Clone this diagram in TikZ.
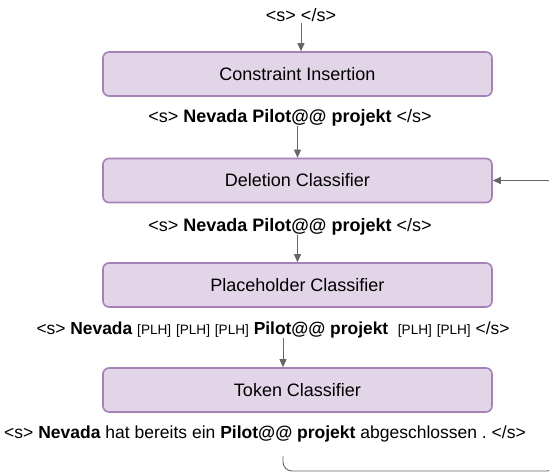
\documentclass[tikz,border=0pt]{standalone}
\usepackage{fontspec}
\setmainfont{Liberation Sans}
\usetikzlibrary{arrows.meta}
\frenchspacing
\definecolor{boxfill}{HTML}{E1D5E7}
\definecolor{boxdraw}{HTML}{A680B8}
\definecolor{arr}{HTML}{666666}
\newcommand{\tagS}[1]{#1}
\newcommand{\plh}{{\fontsize{13.6}{16}\selectfont [PLH]}}
\newcommand{\bw}[1]{\textbf{#1}}
\tikzset{
  stage/.style={draw=boxdraw, fill=boxfill, line width=1.6pt, rounded corners=6pt,
    minimum width=389pt, minimum height=44pt, inner sep=0pt,
    font=\fontsize{18}{20}\selectfont},
  seqtext/.style={inner sep=0pt, font=\fontsize{18}{20}\selectfont\frenchspacing},
  flow/.style={draw=arr, line width=0.9pt, -{Triangle[length=8pt,width=7pt]}},
  loopline/.style={draw=arr, line width=0.9pt, rounded corners=9pt, -{Triangle[length=8pt,width=7pt]}}
}
\begin{document}
\begin{tikzpicture}[x=1pt,y=-1pt]
\useasboundingbox (0,0) rectangle (549,473);
\node[seqtext] (t0) at (301,15) {\tagS{<s> </s>}};
\node[stage] (b0) at (297.5,74) {Constraint Insertion};
\node[seqtext] (t1) at (290,118) {\tagS{<s>} \bw{Nevada Pilot@@ projekt} \tagS{</s>}};
\node[stage] (b1) at (297.5,180.5) {Deletion Classifier};
\node[seqtext] (t2) at (290,227) {\tagS{<s>} \bw{Nevada Pilot@@ projekt} \tagS{</s>}};
\node[stage] (b2) at (297.5,285) {Placeholder Classifier};
\node[seqtext, font=\fontsize{17.4}{20}\selectfont\frenchspacing] (t3) at (273,330) {\tagS{<s>} \bw{Nevada} \plh{} \plh{} \plh{} \bw{Pilot@@ projekt}\ \ \plh{} \plh{} \tagS{</s>}};
\node[stage] (b3) at (297.5,390) {Token Classifier};
\node[seqtext, font=\fontsize{17.5}{20}\selectfont\frenchspacing] (t4) at (265,434) {\tagS{<s>} \bw{Nevada} hat bereits ein \bw{Pilot@@ projekt} abgeschlossen . \tagS{</s>}};
\coordinate (c0) at (301,23);
\coordinate (c1) at (297.5,126);
\coordinate (c2) at (297.5,235);
\coordinate (c3) at (283,338);
\coordinate (fb) at (283,456);
\coordinate (fr) at (556,471);
\draw[flow] (c0) -- (c0 |- b0.north);
\draw[flow] (c1) -- (c1 |- b1.north);
\draw[flow] (c2) -- (c2 |- b2.north);
\draw[flow] (c3) -- (c3 |- b3.north);
\draw[loopline] (fb) |- (fr) |- (b1.east);
\end{tikzpicture}
\end{document}
